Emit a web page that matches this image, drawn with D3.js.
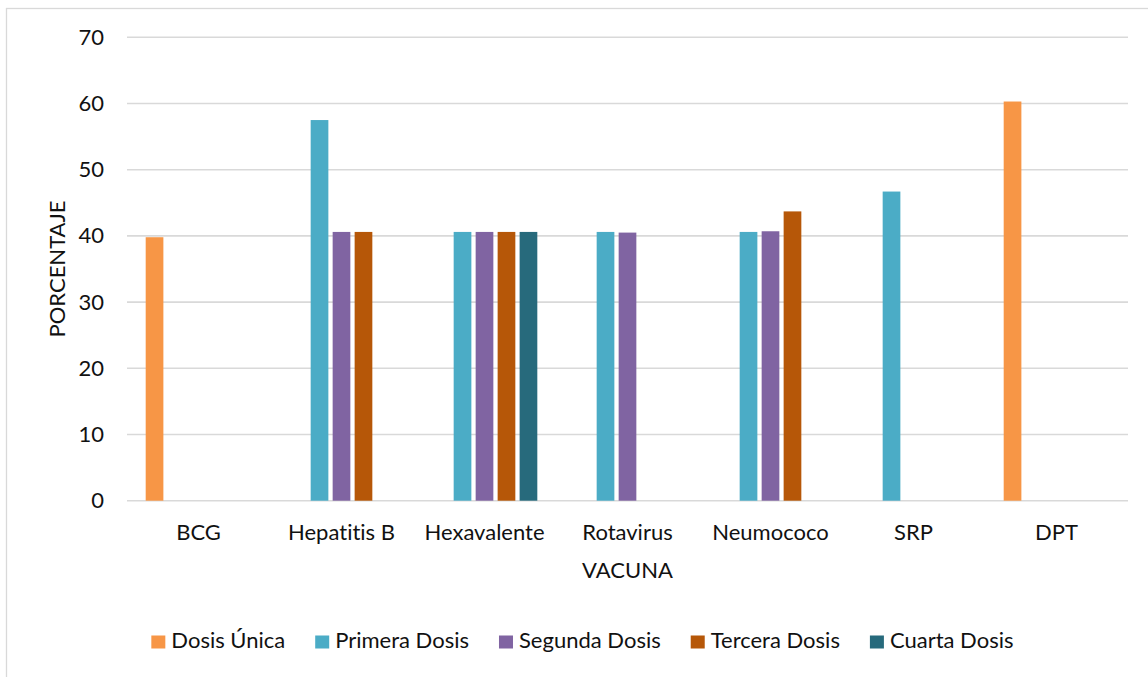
<!DOCTYPE html>
<html>
<head>
<meta charset="utf-8">
<script src="https://cdn.jsdelivr.net/npm/d3@7"></script>
<style>
  html, body { margin: 0; padding: 0; background: #fff; }
  svg { display: block; }
  text { font-family: Lato, "Noto Sans", sans-serif; fill: #111; font-variant-ligatures: none; }
</style>
</head>
<body>
<svg id="chart" width="1148" height="677"></svg>
<script>
// Vaccination coverage by vaccine and dose (percent)
const categories = ["BCG", "Hepatitis B", "Hexavalente", "Rotavirus", "Neumococo", "SRP", "DPT"];
const seriesNames = ["Dosis Única", "Primera Dosis", "Segunda Dosis", "Tercera Dosis", "Cuarta Dosis"];
const dosisUnica   = [39.8, null, null, null, null, null, 60.3];
const primeraDosis = [null, 57.5, 40.6, 40.6, 40.6, 46.7, null];
const segundaDosis = [null, 40.6, 40.6, 40.5, 40.7, null, null];
const terceraDosis = [null, 40.6, 40.6, null, 43.7, null, null];
const cuartaDosis  = [null, null, 40.6, null, null, null, null];
const yTicks = [0, 10, 20, 30, 40, 50, 60, 70];
const colors = ["#F79646", "#4BACC6", "#8064A2", "#B65708", "#276A7C"];

const seriesValues = [dosisUnica, primeraDosis, segundaDosis, terceraDosis, cuartaDosis];

const svg = d3.select("#chart");
const plotLeft = 127, plotRight = 1128, plotTop = 37.3, plotBottom = 500.7;

// Outer chart frame
svg.append("rect")
  .attr("x", 6.5).attr("y", 8.5)
  .attr("width", 1160).attr("height", 700)
  .attr("fill", "none").attr("stroke", "#d9d9d9").attr("stroke-width", 1.3);

const x0 = d3.scaleBand().domain(categories).range([plotLeft, plotRight]).padding(0);
const x1 = d3.scaleBand().domain(seriesNames).range([0, x0.bandwidth()])
  .paddingInner(0.195).paddingOuter(0.85);
const y = d3.scaleLinear().domain([0, 70]).range([plotBottom, plotTop]);

// Horizontal gridlines
svg.append("g").selectAll("line").data(yTicks).join("line")
  .attr("x1", plotLeft).attr("x2", plotRight)
  .attr("y1", d => y(d)).attr("y2", d => y(d))
  .attr("stroke", "#d9d9d9").attr("stroke-width", 1.6);

// Y axis tick labels
const yAxis = d3.axisLeft(y).tickValues(yTicks).tickSize(0).tickPadding(0);
const gy = svg.append("g").attr("transform", `translate(104,0)`).call(yAxis);
gy.select(".domain").remove();
gy.selectAll("text").attr("font-size", 22).attr("font-family", "Lato, 'Noto Sans', sans-serif")
  .attr("fill", "#111");

// X axis category labels
const xAxis = d3.axisBottom(x0).tickSize(0).tickPadding(0);
const gx = svg.append("g").attr("transform", `translate(0,${plotBottom})`).call(xAxis);
gx.select(".domain").remove();
gx.selectAll("text").attr("font-size", 22).attr("font-family", "Lato, 'Noto Sans', sans-serif")
  .attr("fill", "#111").attr("dy", null).attr("y", 39.3);

// Bars
const rows = [];
categories.forEach((c, i) => {
  seriesNames.forEach((s, j) => {
    const v = seriesValues[j][i];
    if (v != null) rows.push({ cat: c, series: s, value: v, color: colors[j] });
  });
});
svg.append("g").selectAll("rect").data(rows).join("rect")
  .attr("x", d => x0(d.cat) + x1(d.series))
  .attr("width", x1.bandwidth())
  .attr("y", d => y(d.value))
  .attr("height", d => y(0) - y(d.value))
  .attr("fill", d => d.color);

// Axis titles
svg.append("text")
  .attr("x", (plotLeft + plotRight) / 2).attr("y", 578)
  .attr("text-anchor", "middle").attr("font-size", 22)
  .text("VACUNA");
svg.append("text")
  .attr("transform", `translate(65,${(plotTop + plotBottom) / 2}) rotate(-90)`)
  .attr("text-anchor", "middle").attr("font-size", 22)
  .text("PORCENTAJE");

// Legend
const legend = svg.append("g");
const items = legend.selectAll("g").data(seriesNames).join("g");
items.append("rect")
  .attr("y", 635.5).attr("width", 14).attr("height", 13)
  .attr("fill", (d, i) => colors[i]);
items.append("text")
  .attr("x", 20).attr("y", 648.3).attr("font-size", 22)
  .text(d => d);
let cursor = 0;
const offsets = [];
items.each(function () {
  offsets.push(cursor);
  const w = d3.select(this).select("text").node().getComputedTextLength();
  cursor += 20 + w + 30;
});
const totalW = cursor - 30;
const startX = 582.4 - totalW / 2;
items.attr("transform", (d, i) => `translate(${startX + offsets[i]},0)`);
</script>
</body>
</html>
